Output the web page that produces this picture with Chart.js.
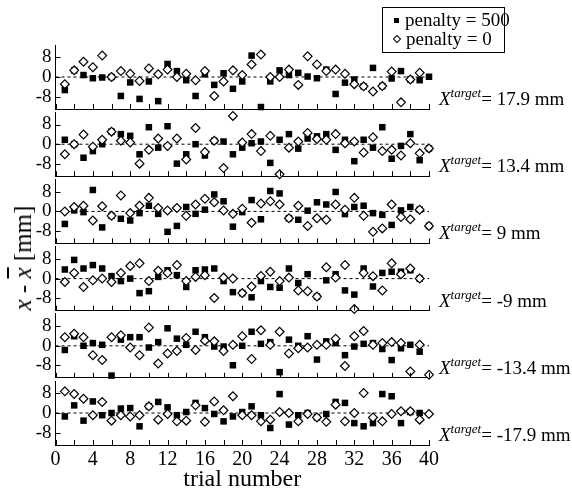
<!DOCTYPE html>
<html>
<head>
<meta charset="utf-8">
<script src="https://cdn.jsdelivr.net/npm/chart.js@4.4.0/dist/chart.umd.min.js"></script>
<style>
body { margin: 0; background: #fff; font-family: 'Liberation Serif', 'Times New Roman', serif; color: #000; }
#wrap { position: relative; width: 572px; height: 494px; overflow: hidden; }
#wrap canvas { position: absolute; left: 0; top: 0; }
.tlab { position: absolute; left: 439px; font-size: 19px; white-space: nowrap; transform: translateY(-50%); }
.tlab .sup { font-style: italic; font-size: 13px; position: relative; top: -8px; }
#legend { position: absolute; left: 382px; top: 7px; width: 121px; height: 44px; border: 1px solid #000; font-size: 19px; }
#legend .row { position: absolute; left: 11px; white-space: nowrap; }
#legend .sq { display: inline-block; width: 5px; height: 5px; background: #000; margin-right: 6px; vertical-align: 3px; }
#legend .dm { display: inline-block; width: 4px; height: 4px; border: 1px solid #000; transform: rotate(45deg); margin-right: 6px; vertical-align: 3px; }
#ytitle { position: absolute; left: 23px; top: 258px; font-size: 25px; white-space: nowrap; transform: translate(-50%, -50%) rotate(-90deg); }
</style>
</head>
<body>
<div id="wrap">
  <div id="legend">
    <div class="row" style="top:1px"><span class="sq"></span>penalty = 500</div>
    <div class="row" style="top:20px"><span class="dm"></span>penalty = 0</div>
  </div>
  <div id="ytitle"><i>x</i> - <i style="text-decoration: overline">x</i> [mm]</div>
</div>
<script>
// trial numbers and axis ticks
const trials = [1,2,3,4,5,6,7,8,9,10,11,12,13,14,15,16,17,18,19,20,21,22,23,24,25,26,27,28,29,30,31,32,33,34,35,36,37,38,39,40];
const xTicks = [0,2,4,6,8,10,12,14,16,18,20,22,24,26,28,30,32,34,36,38,40];
const xLabels = [0,4,8,12,16,20,24,28,32,36,40];
const yTicks = [-8, 0, 8];
const targets = [17.9, 13.4, 9, -9, -13.4, -17.9];

// x - xbar [mm], penalty = 500 (filled squares)
const pen500_1 = [-5.3,2.7,0.8,-0.5,-0.2,0,-7.7,-2.2,-8.9,-1.8,-9.8,5.3,2.4,-1.3,-7.7,1.1,-3.2,1.5,-4.8,-1.8,8.7,-12.2,-1.8,2.7,0.8,1.7,0.2,-0.5,3.0,-6.9,-2.3,-1.0,-3.8,3.7,-3.7,-0.6,2.4,-1.0,-1.3,0.1];
const pen500_2 = [1.8,0,-5.5,-2.8,0,5.1,4.1,3.4,-4.1,6.9,-1.4,7.3,-7.9,-4.1,0,-4.6,1.4,1.1,-4.1,-1.4,0.4,1.1,-7.6,1.8,4.1,-1.8,2.3,3.2,4.1,-2.3,1.8,-6.9,1.8,-1.4,6.9,-5.9,-0.7,4.1,-6.5,-1.7];
const pen500_3 = [-5.1,0.4,-0.3,8.7,-6.5,-1.8,-3.0,-3.7,-0.7,2.3,-1.0,-8.3,-5.9,1.8,-1.0,0.7,6.9,4.1,-6.2,-0.3,4.6,-3.2,8.3,7.3,-2.8,-3.4,0.3,3.7,2.8,7.9,-1.1,1.8,2.3,-0.7,-1.4,-5.5,0.4,1.8,0.7,-5.9];
const pen500_4 = [3.7,7.6,4.1,5.5,4.1,1.0,-1.0,0,-5.9,-5.1,0.7,3.4,1.4,-3.4,3.4,3.7,4.1,-1.0,-5.5,-5.9,-7.6,-1.0,-3.4,-3.7,4.1,-1.8,1.8,-7.3,-0.7,1.8,-4.8,-6.5,4.1,-3.2,2.3,2.8,2.8,3.4,0,null];
const pen500_5 = [-1.7,3.9,0,1.1,0.4,-12.1,2.5,3.5,3.5,-0.7,1.5,7.1,2.9,0.4,5.7,3.5,-0.3,-0.3,-7.9,0,5.7,0.8,1.5,-10.7,2.5,0,3.9,-5.6,1.8,1.1,-3.8,-0.3,0.8,1.1,-1.3,-5.8,-1.0,0.4,-2.4,null];
const pen500_6 = [-1.4,3.1,-3.1,4.7,-0.9,0,1.8,2.0,-5.4,2.7,4.5,2.3,-0.9,0.4,4.1,2.0,-0.4,-3.4,-1.4,0.4,2.7,-0.9,-6.1,7.7,-4.7,-0.9,0,-1.8,-0.4,4.5,4.1,-4.1,-5.4,-4.1,7.7,6.8,-4.1,0.4,0,null];

// x - xbar [mm], penalty = 0 (open diamonds)
const pen0_1 = [-2.9,2.7,6.2,4.0,8.7,0,2.4,1.3,-1.6,3.5,1.1,3.0,0,1.3,-1.3,2.4,-7.7,-1.8,2.7,0.8,5.1,9.1,0,0,3.0,-3.2,8.4,5.1,2.4,3.0,1.3,-2.9,-3.8,-5.9,-3.7,2.2,-10.3,-1.0,1.7,null];
const pen0_2 = [-4.1,0,3.9,-1.0,1.8,5.1,1.4,0.7,-7.9,-2.3,2.3,-0.7,2.3,-6.2,6.6,-3.2,1.4,-9.7,11.5,0.7,4.1,-2.8,3.4,-12.2,-1.4,1.1,4.6,2.1,1.8,4.1,0.4,1.1,-3.4,2.8,-2.8,-2.3,-4.6,0.4,-3.7,-1.7];
const pen0_3 = [0,1.8,2.3,-3.7,2.1,-1.8,6.5,-0.7,2.3,5.5,1.4,0.4,1.4,-1.8,2.8,5.1,3.7,0.4,-1.0,1.1,-4.6,3.2,4.1,2.8,-2.8,2.3,-5.9,-2.8,-3.4,2.8,0.7,5.5,-1.8,-8.3,-6.9,2.8,-2.3,-3.2,0.7,-5.9];
const pen0_4 = [-1.4,2.3,-3.4,-0.7,0,-1.4,2.3,5.1,6.2,-1.0,3.2,2.3,5.5,-1.0,0.7,1.4,-7.9,0.4,0,-5.9,-3.2,1.1,2.8,-1.0,0.4,-4.8,-5.1,-7.3,4.6,0.4,5.5,-12.4,2.3,1.0,-4.8,6.2,1.8,4.1,0,null];
const pen0_5 = [3.5,4.9,3.5,-3.8,-5.8,3.5,4.3,-0.7,-3.8,7.4,-7.2,-3.1,-2.1,3.2,-1.7,2.1,1.8,-2.1,0.4,3.9,-5.4,6.3,0.4,5.7,-3.1,-1.0,-0.7,0.4,0.4,2.9,-8.2,3.9,6.0,0.4,1.1,1.5,1.1,-10.4,0.4,-11.8];
const pen0_6 = [8.8,7.7,5.8,-0.9,4.5,-3.1,-0.9,-1.4,-0.9,2.7,-2.7,-0.4,-3.4,-3.1,3.1,-3.6,4.7,1.1,6.8,-0.9,-0.9,-3.4,-2.7,0.4,0,-3.4,-0.4,-1.8,-3.6,3.4,-3.4,0,8.1,-1.8,-3.4,-0.4,0.7,0.7,-2.7,-0.4];

const pen500 = [pen500_1, pen500_2, pen500_3, pen500_4, pen500_5, pen500_6];
const pen0 = [pen0_1, pen0_2, pen0_3, pen0_4, pen0_5, pen0_6];

// panel geometry (pixels)
const W = 572, H = 494;
const firstTop = 45, pitch = 67.2, panelH = 64;
const xStart = 55.5, xEnd = 429;

Chart.defaults.font.family = "'Liberation Serif', 'Times New Roman', serif";
Chart.defaults.color = '#000';

// tick marks drawn inward, like the original figure
const inwardTicks = {
    id: 'inwardTicks',
    afterDraw(chart) {
        const { ctx, chartArea: a, scales: { x, y } } = chart;
        ctx.save();
        ctx.strokeStyle = '#000';
        ctx.lineWidth = 1;
        ctx.beginPath();
        x.ticks.forEach(t => {
            const px = Math.round(x.getPixelForValue(t.value)) + 0.5;
            ctx.moveTo(px, a.bottom);
            ctx.lineTo(px, a.bottom - 5);
        });
        y.ticks.forEach(t => {
            const py = Math.round(y.getPixelForValue(t.value)) + 0.5;
            ctx.moveTo(a.left, py);
            ctx.lineTo(a.left + 5, py);
        });
        ctx.stroke();
        ctx.restore();
    }
};

const wrap = document.getElementById('wrap');

function makePanel(k) {
    const top = firstTop + k * pitch;
    const bottom = top + panelH;
    const last = k === targets.length - 1;

    const canvas = document.createElement('canvas');
    canvas.width = W;
    canvas.height = H;
    wrap.insertBefore(canvas, wrap.firstChild);

    new Chart(canvas, {
        type: 'scatter',
        data: {
            datasets: [
                {
                    label: 'penalty = 0',
                    data: trials.map((t, i) => ({ x: t, y: pen0[k][i] })),
                    pointStyle: 'rectRot',
                    pointRadius: 4.4,
                    backgroundColor: '#fff',
                    borderColor: '#000',
                    borderWidth: 1.2,
                    order: 0,
                    clip: false
                },
                {
                    label: 'penalty = 500',
                    data: trials.map((t, i) => ({ x: t, y: pen500[k][i] })),
                    pointStyle: 'rect',
                    pointRadius: 4.6,
                    backgroundColor: '#000',
                    borderColor: '#000',
                    borderWidth: 0,
                    order: 1,
                    clip: false
                },
                {
                    type: 'line',
                    data: [{ x: 0, y: 0 }, { x: 40, y: 0 }],
                    borderColor: '#000',
                    borderWidth: 1,
                    borderDash: [3, 3],
                    pointRadius: 0,
                    order: 2
                }
            ]
        },
        options: {
            responsive: false,
            animation: false,
            devicePixelRatio: 1,
            events: [],
            layout: { padding: { top: top, left: 0, right: W - xEnd, bottom: last ? 0 : H - bottom } },
            plugins: { legend: { display: false }, tooltip: { enabled: false } },
            scales: {
                x: {
                    type: 'linear',
                    min: 0,
                    max: 40,
                    afterBuildTicks: s => { s.ticks = xTicks.map(v => ({ value: v })); },
                    afterFit: s => { s.height = last ? H - bottom : 0; },
                    grid: { drawOnChartArea: false, drawTicks: false },
                    border: { color: '#000', width: 1 },
                    ticks: {
                        display: last,
                        autoSkip: false,
                        maxRotation: 0,
                        padding: 3,
                        font: { size: 20 },
                        callback: v => xLabels.includes(v) ? String(v) : ''
                    },
                    title: { display: last, text: 'trial number', font: { size: 24, lineHeight: 1 }, padding: { top: 0, bottom: 2 } }
                },
                y: {
                    min: -13,
                    max: 13,
                    afterBuildTicks: s => { s.ticks = yTicks.map(v => ({ value: v })); },
                    afterFit: s => { s.width = xStart; },
                    grid: { drawOnChartArea: false, drawTicks: false },
                    border: { color: '#000', width: 1 },
                    ticks: { padding: 4, font: { size: 19 } }
                }
            }
        },
        plugins: [inwardTicks]
    });

    const lab = document.createElement('div');
    lab.className = 'tlab';
    lab.style.top = (bottom - 10) + 'px';
    lab.innerHTML = '<i>X</i><span class="sup">target</span>= ' + targets[k] + ' mm';
    wrap.appendChild(lab);
}

targets.forEach((t, k) => makePanel(k));
</script>
</body>
</html>
